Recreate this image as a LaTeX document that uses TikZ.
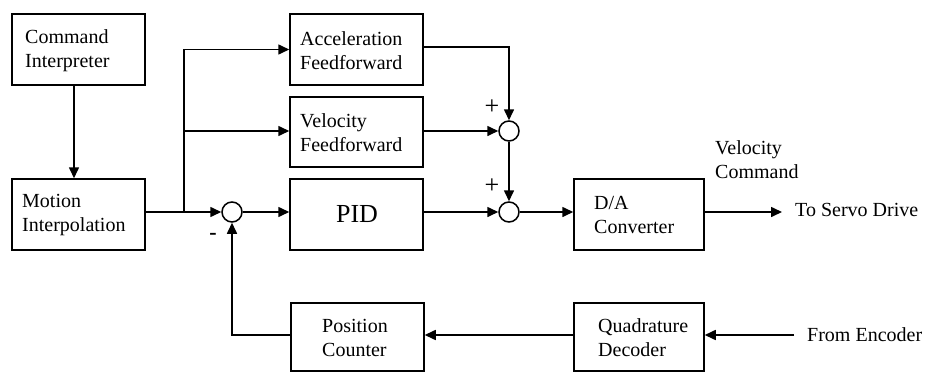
\documentclass[tikz,border=0pt]{standalone}
\usepackage{fontspec}
\setmainfont{Liberation Serif}
\usetikzlibrary{arrows.meta}
\begin{document}
\begin{tikzpicture}[x=1pt,y=-1pt,
  blk/.style={draw, line width=1.5pt, inner sep=0pt},
  lbl/.style={inner sep=0pt, anchor=west, align=left, font=\fontsize{20}{24}\selectfont},
  sumj/.style={draw, circle, line width=1.5pt, minimum size=20pt, inner sep=0pt},
  wire/.style={line width=1.6pt},
  flow/.style={wire, -{Triangle[length=11pt,width=10pt]}},
  sgn/.style={inner sep=0pt, font=\fontsize{26}{28}\selectfont}]
\useasboundingbox (0,0) rectangle (935,372);

% blocks
\node[blk, minimum width=133pt, minimum height=71pt] (ci)  at (78.5,49.5)  {};
\node[blk, minimum width=133pt, minimum height=71pt] (mi)  at (78.5,214.5) {};
\node[blk, minimum width=133pt, minimum height=71pt] (af)  at (356.5,49.5) {};
\node[blk, minimum width=133pt, minimum height=70pt] (vf)  at (356.5,132)  {};
\node[blk, minimum width=133pt, minimum height=71pt] (pid) at (356.5,214.5) {};
\node[blk, minimum width=130pt, minimum height=71pt] (da)  at (639,214.5)  {};
\node[blk, minimum width=133pt, minimum height=68pt] (pc)  at (357.5,337)  {};
\node[blk, minimum width=130pt, minimum height=68pt] (qd)  at (639,337)    {};

% block labels
\node[lbl] (ciT) at (25,51)   {Command\\Interpreter};
\node[lbl] (miT) at (22,215)  {Motion\\Interpolation};
\node[lbl] (afT) at (300,51)  {Acceleration\\Feedforward};
\node[lbl] (vfT) at (300,133) {Velocity\\Feedforward};
\node[inner sep=0pt, font=\fontsize{26}{30}\selectfont] (pidT) at (357,214.5) {PID};
\node[lbl] (daT) at (594,215) {D/A\\Converter};
\node[lbl] (pcT) at (322,338) {Position\\Counter};
\node[lbl] (qdT) at (598,338) {Quadrature\\Decoder};

% summing junctions
\node[sumj] (s0) at (232,212) {};
\node[sumj] (s1) at (509,131) {};
\node[sumj] (s2) at (509,212) {};

% signs
\node[sgn] (p1) at (492,107) {+};
\node[sgn] (p2) at (492,186) {+};
\node[inner sep=0pt, font=\fontsize{22}{24}\selectfont\bfseries] (m0) at (213,236) {-};

% external labels
\node[lbl] (vc)  at (715,160) {Velocity\\Command};
\node[lbl] (tsd) at (795,210) {To Servo Drive};
\node[lbl] (enc) at (807,335) {From Encoder};
\coordinate (servo) at (782,212);
\coordinate (split) at (184,212);

% signal paths
\draw[flow] ([xshift=-4.5pt]ci.south) -- ([xshift=-4.5pt]mi.north);
\draw[flow] (mi.east |- s0) -- (s0.west);
\draw[flow] (split) |- (af.west);
\draw[flow] (split) |- (vf.west |- s1);
\draw[flow] ([yshift=2.5pt]af.east) -| (s1.north);
\draw[flow] (vf.east |- s1) -- (s1.west);
\draw[flow] (s1.south) -- (s2.north);
\draw[flow] (s0.east) -- (pid.west |- s0);
\draw[flow] (pid.east |- s2) -- (s2.west);
\draw[flow] (s2.east) -- (da.west |- s2);
\draw[flow] (da.east |- servo) -- (servo);
\draw[flow] ([xshift=-13pt]enc.west) -- (qd.east |- enc);
\draw[flow] (qd.west |- enc) -- (pc.east |- enc);
\draw[flow] (pc.west |- enc) -| (s0.south);
\end{tikzpicture}
\end{document}
